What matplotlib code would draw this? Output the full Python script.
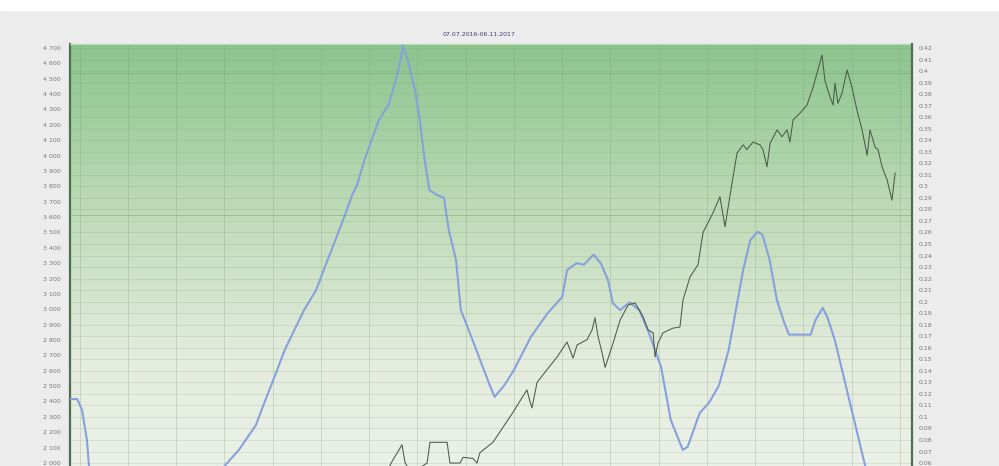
import numpy as np
import matplotlib
matplotlib.use("Agg")
import matplotlib.pyplot as plt
from matplotlib.colors import LinearSegmentedColormap
from matplotlib.patches import Rectangle
from matplotlib.ticker import FixedLocator, FuncFormatter

# period shown in the header
title = "07.07.2016-06.11.2017"

# blue series (left axis), x = trading day index
blue_x = [0, 3, 5, 7, 8, 10, 12, 21, 37, 54, 60, 64, 70, 77, 81, 85, 89, 93, 97, 102,
          106, 110, 114, 117, 119, 122, 125, 128, 132, 135, 137, 138, 140, 143, 145, 147,
          149, 152, 155, 157, 160, 162, 166, 170, 174, 176, 180, 184, 191, 198, 204, 206,
          210, 213, 217, 220, 223, 225, 228, 232, 236, 240, 245, 249, 254, 256, 261, 265,
          269, 273, 276, 279, 282, 285, 287, 290, 293, 296, 298, 307, 309, 312, 314, 317,
          321, 324, 327, 330, 334, 338]
blue_y = [2416, 2416, 2345, 2150, 1955, 1825, 1760, 1725, 1695, 1790, 1890, 1980, 2085,
          2245, 2410, 2570, 2735, 2865, 2995, 3125, 3290, 3450, 3615, 3745, 3810, 3970,
          4100, 4230, 4330, 4490, 4620, 4715, 4620, 4425, 4230, 3970, 3775, 3745, 3725,
          3515, 3320, 2995, 2835, 2670, 2505, 2430, 2505, 2605, 2820, 2975, 3080, 3255,
          3300, 3290, 3355, 3300, 3190, 3040, 2995, 3045, 2995, 2845, 2625, 2280, 2085,
          2105, 2325, 2395, 2505, 2735, 2995, 3255, 3450, 3505, 3485, 3320, 3060, 2915,
          2835, 2835, 2930, 3010, 2945, 2800, 2540, 2345, 2150, 1955, 1790, 1760]

# dark series (right axis)
dark_x = [95.3, 116.1, 130.6, 133.9, 136.0, 137.6, 138.9, 140.9, 145.1, 148.0, 149.2, 156.3,
          157.5, 161.7, 162.9, 167.0, 168.7, 169.9, 175.3, 178.2, 183.6, 189.4, 190.7, 191.5,
          193.6, 197.7, 201.9, 206.0, 207.3, 208.5, 210.2, 214.3, 216.4, 217.6, 218.9, 220.5,
          221.8, 225.1, 228.0, 231.3, 234.2, 237.5, 239.6, 241.7, 242.5, 243.7, 245.8, 249.9,
          252.8, 254.1, 257.0, 260.3, 262.4, 266.5, 269.4, 271.5, 274.4, 276.5, 279.0, 280.6,
          283.1, 286.0, 287.2, 288.9, 290.2, 293.1, 295.1, 297.2, 298.4, 299.7, 302.6, 305.5,
          308.0, 309.6, 311.7, 312.9, 315.0, 316.3, 317.1, 318.3, 320.0, 322.1, 324.1, 326.2,
          328.3, 330.4, 331.6, 333.7, 334.9, 336.6, 338.7, 340.7, 342.0]
dark_y = [0.028, 0.037, 0.050, 0.063, 0.070, 0.076, 0.060, 0.054, 0.056, 0.060, 0.078, 0.078,
          0.060, 0.060, 0.065, 0.064, 0.060, 0.069, 0.078, 0.087, 0.104, 0.1235, 0.113, 0.108,
          0.130, 0.141, 0.152, 0.165, 0.158, 0.151, 0.1625, 0.167, 0.1755, 0.186, 0.1695, 0.156,
          0.143, 0.164, 0.184, 0.197, 0.199, 0.187, 0.1755, 0.173, 0.152, 0.164, 0.173, 0.177,
          0.178, 0.2015, 0.2215, 0.232, 0.260, 0.277, 0.291, 0.265, 0.303, 0.329, 0.336, 0.332,
          0.3385, 0.336, 0.332, 0.317, 0.3376, 0.349, 0.343, 0.349, 0.3385, 0.3576, 0.3636, 0.3706,
          0.386, 0.398, 0.414, 0.392, 0.3775, 0.3706, 0.3897, 0.372, 0.381, 0.401, 0.386, 0.366,
          0.349, 0.327, 0.349, 0.334, 0.332, 0.317, 0.3056, 0.288, 0.3116]

left_ticks = list(range(2000, 4701, 100))
right_ticks = [round(0.06 + 0.01 * i, 2) for i in range(37)]
grid_x = list(range(4, 345, 20))

fig = plt.figure(figsize=(9.99, 4.66), dpi=100, facecolor='#ececec')
fig.add_artist(Rectangle((0, 1 - 10 / 466), 1, 10 / 466, transform=fig.transFigure,
                         color='white', zorder=0))

# axes runs below the bottom edge, the reference is cropped there
ax = fig.add_axes([70 / 999, -54 / 466, 842 / 999, (466 - 44 + 54) / 466])
ax.set_xlim(0, 349)
ax.set_ylim(1629, 4726)

# green gradient background
cmap = LinearSegmentedColormap.from_list('bg', ['#f0f3ec', '#e4ecde', '#bcdab5', '#8cc48e'])
grad = np.linspace(0, 1, 256).reshape(-1, 1)
ax.imshow(grad, extent=[0, 1, 0, 1], transform=ax.transAxes, origin='lower',
          aspect='auto', cmap=cmap, zorder=0)

for gx in grid_x:
    ax.axvline(gx, color='#6f9a6c', lw=0.6, alpha=0.3, zorder=1)

ax2 = ax.twinx()
ax2.set_ylim(0.0106, 0.4235)
for gy in right_ticks:
    ax2.axhline(gy, color='#7fa57c', lw=0.5, alpha=0.3, zorder=1)
for gy in [0.398, 0.275]:
    ax2.axhline(gy, color='#6f9a6c', lw=0.7, alpha=0.45, zorder=1)

ax.plot(blue_x, blue_y, color='#86a1de', lw=1.5, zorder=3)
ax2.plot(dark_x, dark_y, color='#4b5a4a', lw=0.75, zorder=4)

ax.yaxis.set_major_locator(FixedLocator(left_ticks))
ax.yaxis.set_major_formatter(FuncFormatter(lambda v, p: f"{int(v):,}".replace(",", " ")))
ax2.yaxis.set_major_locator(FixedLocator(right_ticks))
ax2.yaxis.set_major_formatter(FuncFormatter(lambda v, p: f"{v:.2f}".rstrip('0')))
ax.set_xticks([])

for a in (ax, ax2):
    a.tick_params(axis='y', length=0, labelsize=4.5, labelcolor='#777777', pad=7)
    for s in a.spines.values():
        s.set_visible(False)
ax2.tick_params(axis='y', pad=5)

ax.spines['left'].set_visible(True)
ax.spines['left'].set_color('#4f6e4f')
ax.spines['left'].set_linewidth(1.6)
ax2.spines['right'].set_visible(True)
ax2.spines['right'].set_color('#4f6e4f')
ax2.spines['right'].set_linewidth(1.6)
ax.spines['top'].set_visible(True)
ax.spines['top'].set_color('#b9d9b3')

fig.text(0.48, 1 - 34 / 466, title, fontsize=4.5, color='#3d3d7a', ha='center', va='center')

fig.savefig('out.png', dpi=100, facecolor=fig.get_facecolor())
